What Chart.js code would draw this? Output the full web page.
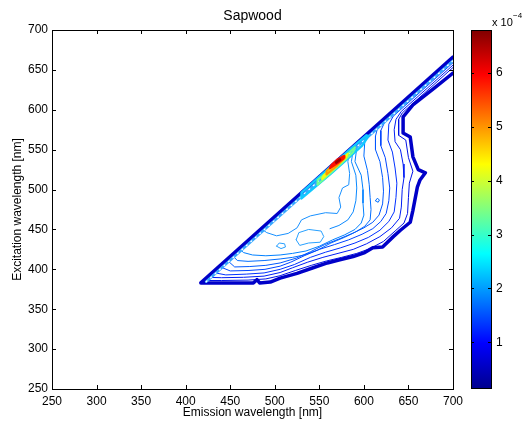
<!DOCTYPE html>
<html>
<head>
<meta charset="utf-8">
<script src="https://cdn.jsdelivr.net/npm/chart.js@4/dist/chart.umd.min.js"></script>
<style>
  body { margin: 0; background: #fff; }
  canvas { position: absolute; left: 0; top: 0; }
</style>
</head>
<body>
<canvas id="chart" width="522" height="421"></canvas>
<canvas id="cbar" width="522" height="421"></canvas>
<script>
// axis ranges / ticks
const xRange = [250, 700];
const yRange = [250, 700];
const cbMin = 0.15, cbMax = 6.8;
const cbTicks = [1, 2, 3, 4, 5, 6];

// outer mask edge (emission, excitation) [nm]
const boundary = [[700,646],[680,628],[655,606],[644,591],[644,571],[652,566],[655,541],[661,525],[669,521],[663,512],[660,503],[655,474],[652,459],[641,449],[633,441],[621,428],[610,427],[601,421],[588,416],[573,412],[559,408],[543,402],[525,395],[506,389],[495,384],[483,383],[480,387],[476,383],[431,383],[417,383],[700,666]];

// scatter band along the diagonal
const band = [[423,384.5],[700,661.5]];

// contour lines, outer -> inner
const c1 = [[700,653],[652,605],[643,596],[639,588],[639,568],[647,562],[650,540],[655,523],[651,508],[650,490],[649,470],[645,458],[635,448],[622,435],[607,426],[592,420],[575,415],[558,410.5],[541,405],[523,398.5],[506,392],[490,388],[470,386.5],[440,386],[421,386]];
const c2 = [[700,656],[642,598],[636,588],[634,575],[635,560],[641,550],[644,532],[645,515],[643,500],[642,478],[640,464],[631,452],[618,441],[603,432],[588,425],[571,420],[554,415],[537,409],[520,402],[506,396],[488,391.5],[465,390],[440,389.5],[426,390]];
const c3 = [[700,659],[633,592],[628,582],[627,562],[632,547],[635,527],[637,508],[636,490],[634,472],[628,460],[618,449],[605,440],[590,433],[574,427],[557,421.5],[540,415],[522,406],[506,400],[488,395.5],[468,394],[445,393],[431,396]];
const c4 = [[700,662],[624,586],[619,574],[619,555],[624,540],[627,520],[629,502],[628,486],[625,470],[619,460],[610,451],[598,444],[583,437],[567,431],[550,425],[533,417],[518,409],[506,404],[489,400],[470,398.5],[450,398],[439,403]];
const c5 = [[700,664],[616,580],[613,567],[613,550],[618,535],[621,515],[622,498],[621,482],[617,468],[610,459],[600,452],[587,445],[572,438],[556,431],[540,422],[524,414],[506,408],[490,405],[472,403.5],[455,403],[446,412]];
const c6 = [[700,665],[606,572],[601,560],[600,542],[604,524],[606,506],[607,490],[608,475],[607,462],[601,454],[591,447],[578,440],[563,433],[548,424],[533,418],[520,415],[506,413],[488,411],[470,410],[458,411],[452,418]];
const c7 = [[598,564],[592,552],[590,535],[597,518],[599,500],[599,483],[600,468],[597,458],[590,450],[578,443],[565,437],[550,429],[535,423],[520,420],[506,418],[490,417],[475,418],[465,421],[460,426]];
const c8 = [[594,560],[588,550],[586,535],[591,518],[592,502],[591,486],[588,472],[582,462],[572,455],[562,451]];
const cA = [[486,450],[491,446],[502,442],[515,445],[525,452],[530,462],[540,467],[557,471],[570,470],[574,478],[572,490],[576,502],[583,506],[584,520],[582,535],[584,548],[590,555]];
const cB = [[524,437],[527,446],[538,450],[552,448],[555,441],[551,434],[538,433],[528,430],[524,437]];
const s1 = [[502,429],[505,433],[511,432],[512,428],[507,426],[502,429]];
const s2 = [[613,486],[615,489],[617.5,487],[616,484],[613,486]];

// peak near the diagonal
const hCyan = [[530,489],[545,503],[562,519],[580,537],[598,555],[605,567],[603,568],[585,551],[565,531],[545,511],[530,496],[530,489]];
const hGreen = [[548,506],[560,518],[575,533],[588,547],[590,553],[575,538],[560,523],[548,512],[548,506]];
const hYellow = [[553,513],[565,525],[580,540],[582,545],[568,531],[555,518],[553,513]];
const hOrange = [[558,519],[570,530],[579,540],[577,542],[568,534],[558,523],[558,519]];
const hRed = [[562,527],[570,533],[577,539],[578,542],[571,538],[564,531],[562,527]];
const hDark = [[569,534],[573,537.5]];

Chart.defaults.font.family = '"Liberation Sans", Arial, sans-serif';
Chart.defaults.font.size = 12;
Chart.defaults.color = '#000';

const line = (pts, color, width, extra) => Object.assign({
  data: pts.map(([x, y]) => ({ x, y })),
  borderColor: color,
  borderWidth: width,
  showLine: true,
  pointRadius: 0,
  fill: false,
  tension: 0,
  borderJoinStyle: 'round',
  borderCapStyle: 'round'
}, extra || {});

// dataset 0 is painted last (on top)
const datasets = [
  line(hDark, '#a00000', 3),
  line(hRed, '#ff1000', 2.5),
  line(hOrange, '#ff9a00', 2),
  line(hYellow, '#f0ff10', 2),
  line(hGreen, '#70ff90', 2),
  line(hCyan, '#10c8ff', 2.5),
  line(band, '#ffffff', 1.3, { borderDash: [1, 5] }),
  line(band, '#38a8ff', 2.5),
  line(boundary, '#0000c8', 3.5),
  line(c1, '#0010e6', 1),
  line(c2, '#001cf5', 1),
  line(c3, '#0030ff', 1),
  line(c4, '#0044ff', 1),
  line(c5, '#0058ff', 1),
  line(c6, '#006cff', 1),
  line(c7, '#0080ff', 1),
  line(c8, '#0a88ff', 1),
  line(cA, '#1890ff', 1),
  line(cB, '#28a0ff', 1),
  line(s1, '#28a0ff', 1),
  line(s2, '#0070ff', 1)
];

// box, inward ticks on all four sides, title
const framePlugin = {
  id: 'frame',
  afterDraw(chart) {
    const { ctx, chartArea: a, scales } = chart;
    ctx.save();
    ctx.strokeStyle = '#000';
    ctx.lineWidth = 1;
    ctx.beginPath();
    scales.x.ticks.forEach(t => {
      const px = Math.round(scales.x.getPixelForValue(t.value)) + 0.5;
      ctx.moveTo(px, a.bottom); ctx.lineTo(px, a.bottom - 4);
      ctx.moveTo(px, a.top); ctx.lineTo(px, a.top + 4);
    });
    scales.y.ticks.forEach(t => {
      const py = Math.round(scales.y.getPixelForValue(t.value)) + 0.5;
      ctx.moveTo(a.left, py); ctx.lineTo(a.left + 4, py);
      ctx.moveTo(a.right, py); ctx.lineTo(a.right - 4, py);
    });
    ctx.stroke();
    ctx.strokeRect(Math.round(a.left) + 0.5, Math.round(a.top) + 0.5, Math.round(a.right - a.left), Math.round(a.bottom - a.top));
    ctx.fillStyle = '#000';
    ctx.font = '14px "Liberation Sans", Arial, sans-serif';
    ctx.textAlign = 'center';
    ctx.textBaseline = 'middle';
    ctx.fillText('Sapwood', (a.left + a.right) / 2, 16);
    ctx.restore();
  }
};

new Chart(document.getElementById('chart'), {
  type: 'scatter',
  data: { datasets },
  options: {
    responsive: false,
    animation: false,
    layout: { padding: { left: 0, top: 30, right: 69, bottom: 0 } },
    scales: {
      x: {
        type: 'linear', min: xRange[0], max: xRange[1],
        ticks: { stepSize: 50, padding: 5, maxRotation: 0, autoSkip: false },
        grid: { display: false, drawTicks: false }, border: { display: false },
        title: { display: true, text: 'Emission wavelength [nm]', padding: { top: 0, bottom: 1 } },
        afterFit(s) { s.height = 32; }
      },
      y: {
        type: 'linear', min: yRange[0], max: yRange[1],
        ticks: { stepSize: 50, padding: 4, autoSkip: false },
        grid: { display: false, drawTicks: false }, border: { display: false },
        title: { display: true, text: 'Excitation wavelength [nm]', padding: { top: 10, bottom: 0 } },
        afterFit(s) { s.width = 52; }
      }
    },
    plugins: { legend: { display: false }, tooltip: { enabled: false } }
  },
  plugins: [framePlugin]
});

// jet colour bar
const jetFill = (c) => {
  const { ctx, chartArea } = c.chart;
  if (!chartArea) return '#00008f';
  const g = ctx.createLinearGradient(0, chartArea.bottom, 0, chartArea.top);
  g.addColorStop(0, '#00008f');
  g.addColorStop(0.125, '#0000ff');
  g.addColorStop(0.375, '#00ffff');
  g.addColorStop(0.625, '#ffff00');
  g.addColorStop(0.875, '#ff0000');
  g.addColorStop(1, '#800000');
  return g;
};

const cbarPlugin = {
  id: 'cbarFrame',
  afterDraw(chart) {
    const { ctx, chartArea: a, scales } = chart;
    ctx.save();
    ctx.strokeStyle = '#000';
    ctx.lineWidth = 1;
    ctx.beginPath();
    scales.y.ticks.forEach(t => {
      const py = Math.round(scales.y.getPixelForValue(t.value)) + 0.5;
      ctx.moveTo(a.left, py); ctx.lineTo(a.left + 3, py);
      ctx.moveTo(a.right, py); ctx.lineTo(a.right - 3, py);
    });
    ctx.stroke();
    ctx.strokeRect(Math.round(a.left) + 0.5, Math.round(a.top) + 0.5, Math.round(a.right - a.left), Math.round(a.bottom - a.top));
    ctx.fillStyle = '#000';
    ctx.textAlign = 'left';
    ctx.textBaseline = 'alphabetic';
    ctx.font = '11px "Liberation Sans", Arial, sans-serif';
    ctx.fillText('x 10', a.right + 1, 26);
    ctx.font = '8px "Liberation Sans", Arial, sans-serif';
    ctx.fillText('\u22124', a.right + 22, 18);
    ctx.restore();
  }
};

new Chart(document.getElementById('cbar'), {
  type: 'bar',
  data: {
    labels: [''],
    datasets: [{ data: [[cbMin, cbMax]], backgroundColor: jetFill, borderWidth: 0, barPercentage: 1, categoryPercentage: 1 }]
  },
  options: {
    responsive: false,
    animation: false,
    layout: { padding: { left: 471, top: 30, right: 0, bottom: 33 } },
    scales: {
      x: { display: false },
      y: {
        position: 'right', min: cbMin, max: cbMax,
        afterBuildTicks(s) { s.ticks = cbTicks.map(v => ({ value: v })); },
        afterFit(s) { s.width = 31; },
        ticks: { padding: 5 },
        grid: { display: false, drawTicks: false }, border: { display: false }
      }
    },
    plugins: { legend: { display: false }, tooltip: { enabled: false } }
  },
  plugins: [cbarPlugin]
});
</script>
</body>
</html>
